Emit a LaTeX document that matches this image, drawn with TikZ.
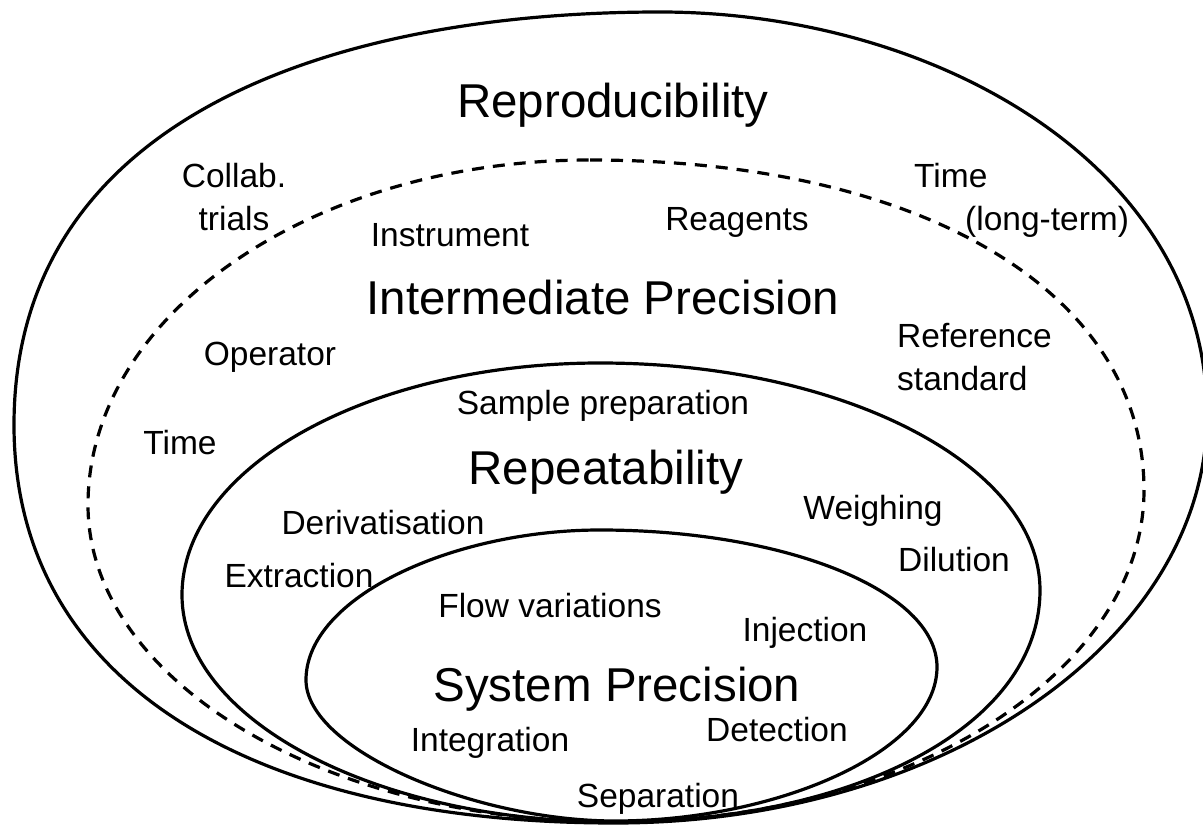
\documentclass[tikz,border=0pt]{standalone}
\usepackage{fontspec}
\setmainfont{Liberation Sans}
\begin{document}
\begin{tikzpicture}[x=1pt,y=-1pt,
  rim/.style={line width=3.2pt, line join=round},
  dashrim/.style={line width=3.2pt, dash pattern=on 12pt off 9pt},
  big/.style={inner sep=0pt, anchor=north, font=\fontsize{47.5}{56}\selectfont},
  small/.style={inner sep=0pt, anchor=north, font=\fontsize{33.5}{43}\selectfont}]
\useasboundingbox (0,0) rectangle (1203,826);
% outer: reproducibility
\draw[rim] (660,12) .. controls (934,12) and (1207,165) .. (1207,415)
  .. controls (1207,640) and (943,823) .. (615,823)
  .. controls (254,823) and (14,684) .. (14,425)
  .. controls (14,115) and (337,12) .. cycle;
% dashed: intermediate precision
\draw[dashrim] (590,160) .. controls (922,160) and (1144,292) .. (1144,490)
  .. controls (1144,673) and (907,822) .. (615,822)
  .. controls (324,822) and (88,680) .. (88,505)
  .. controls (88,314) and (313,160) .. cycle;
% repeatability
\draw[rim] (600,363) .. controls (843,363) and (1040,465) .. (1040,590)
  .. controls (1040,729) and (849,822) .. (615,822)
  .. controls (376,822) and (182,720) .. (182,595)
  .. controls (182,467) and (369,363) .. cycle;
% system precision
\draw[rim] (600,530) .. controls (786,530) and (937,591) .. (937,667)
  .. controls (937,752) and (776,821) .. (615,821)
  .. controls (476,821) and (306,750) .. (306,680)
  .. controls (306,597) and (453,530) .. cycle;
% labels
\node[big] (rep) at (613,83) {Reproducibility};
\node[small, align=center] (collab) at (234,163) {Collab.\\trials};
\node[small, anchor=north west, align=left] (tlong) at (914,163) {Time\\\hspace*{51pt}(long-term)};
\node[small] (instr) at (450,223) {Instrument};
\node[small] (reag) at (737,207) {Reagents};
\node[big] (ip) at (603,280) {Intermediate Precision};
\node[small] (oper) at (270,342) {Operator};
\node[small, anchor=north west, align=left] (refstd) at (897,323) {Reference\\standard};
\node[small] (sample) at (603,390) {Sample preparation};
\node[small] (time) at (180,430) {Time};
\node[big] (repeat) at (606,450) {Repeatability};
\node[small] (weigh) at (873,495) {Weighing};
\node[small] (deriv) at (383,510) {Derivatisation};
\node[small] (dil) at (954,547) {Dilution};
\node[small] (extr) at (299,563) {Extraction};
\node[small] (flow) at (550,593) {Flow variations};
\node[small] (inj) at (805,617) {Injection};
\node[big] (sys) at (617,667) {System Precision};
\node[small] (det) at (777,717) {Detection};
\node[small] (integ) at (490,727) {Integration};
\node[small] (sep) at (658,783) {Separation};
\end{tikzpicture}
\end{document}
